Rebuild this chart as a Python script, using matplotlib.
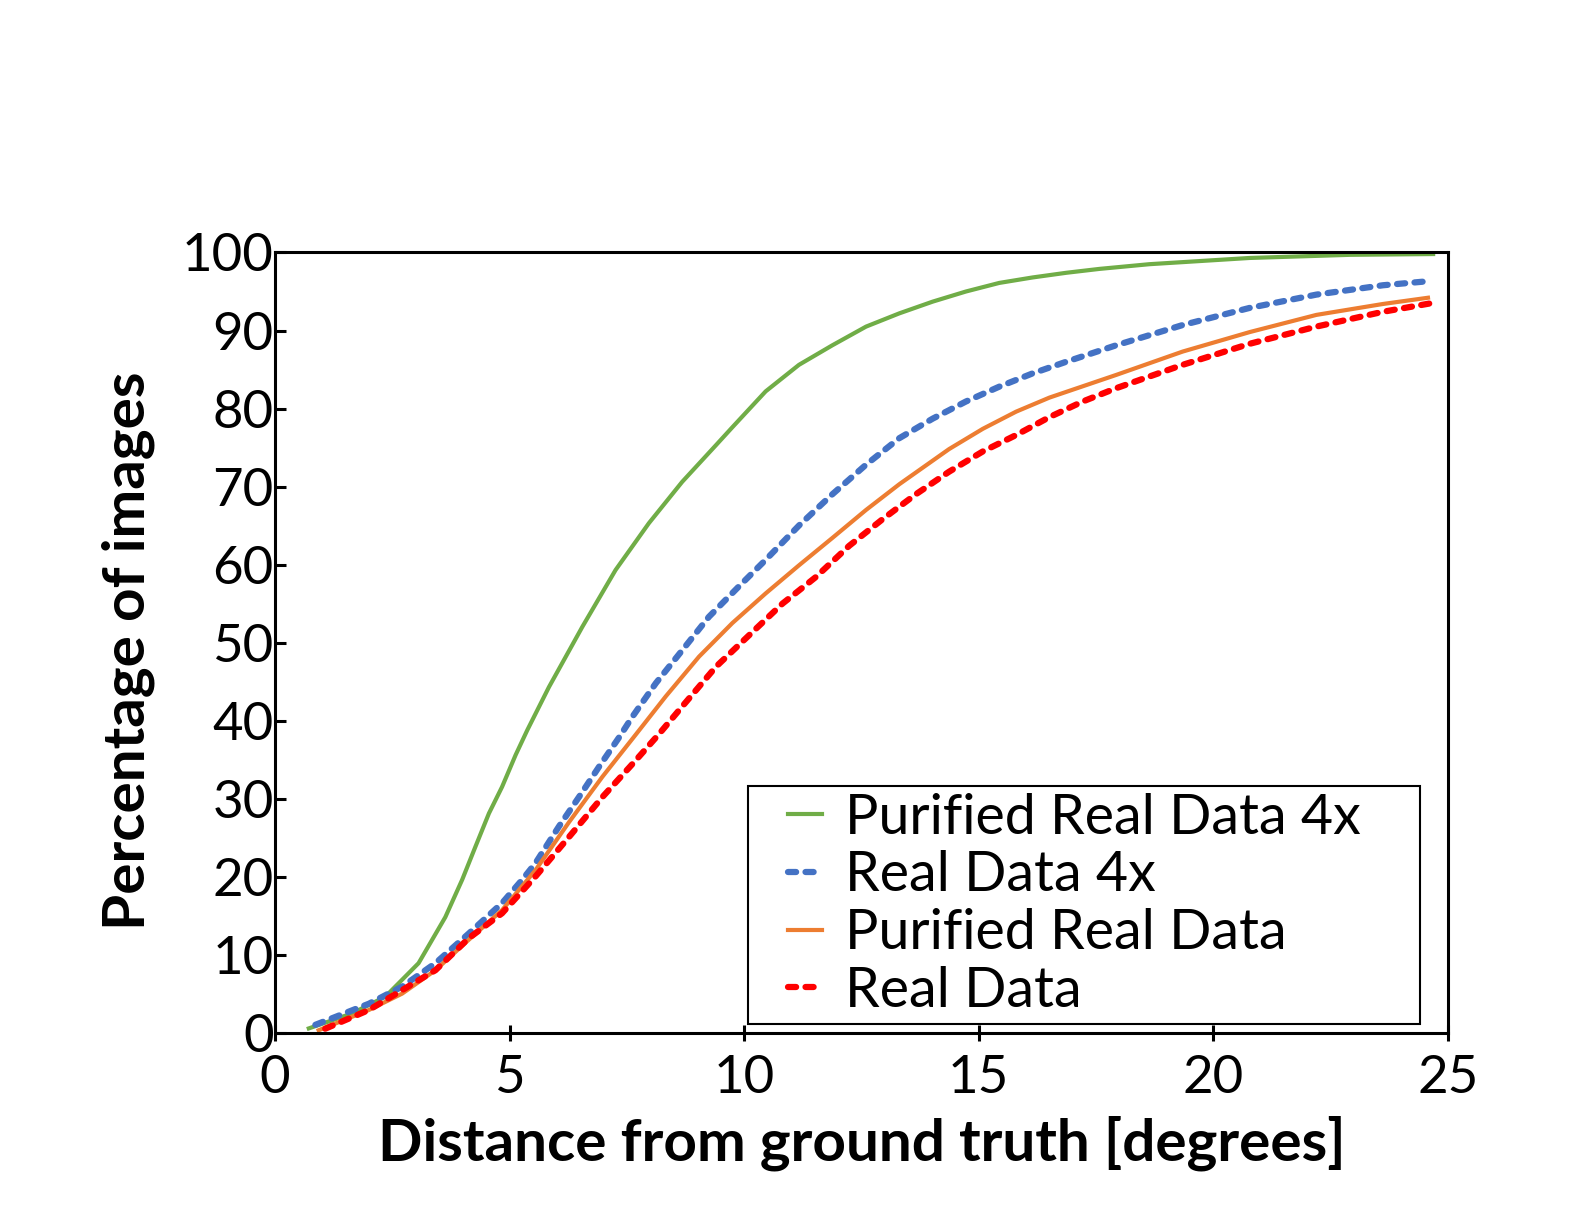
import matplotlib
matplotlib.use("Agg")
import matplotlib.pyplot as plt
from matplotlib.lines import Line2D
from matplotlib.legend_handler import HandlerLine2D

plt.rcParams['font.family'] = ['Lato', 'DejaVu Sans']

# values
x_green = [0.72, 1.64, 2.35, 3.06, 3.63, 3.99, 4.27, 4.56, 4.84, 5.13, 5.38, 5.84, 6.55, 7.26,
           7.97, 8.68, 9.4, 9.75, 10.46, 11.17, 11.88, 12.6, 13.31, 14.02, 14.73, 15.44, 16.15,
           16.87, 17.58, 18.64, 20.78, 22.91, 24.69]
y_green = [0.54, 2.46, 4.6, 8.9, 14.8, 19.6, 23.8, 28.1, 31.5, 35.6, 38.8, 44.3, 52.0, 59.3,
           65.3, 70.6, 75.3, 77.6, 82.2, 85.6, 88.1, 90.5, 92.2, 93.7, 95.0, 96.1, 96.8,
           97.4, 97.9, 98.5, 99.3, 99.7, 99.8]

x_blue = [0.86, 2.0, 2.71, 3.42, 4.13, 4.84, 5.27, 5.55, 6.05, 6.48, 6.91, 7.33, 7.62, 8.12,
          8.68, 9.25, 9.89, 10.46, 11.17, 11.88, 12.6, 13.31, 14.02, 14.73, 15.44, 16.15,
          16.87, 17.93, 19.35, 20.78, 22.2, 23.62, 24.55]
y_blue = [1.0, 3.7, 5.9, 8.9, 12.7, 16.6, 19.6, 21.7, 26.4, 30.2, 34.1, 37.8, 40.5, 44.8,
          49.0, 53.3, 57.2, 60.6, 65.0, 69.0, 72.8, 76.2, 78.7, 80.9, 82.8, 84.5,
          86.0, 88.1, 90.7, 92.9, 94.6, 95.8, 96.3]

x_orange = [0.93, 2.0, 2.71, 3.42, 4.13, 4.84, 5.55, 6.27, 6.98, 7.69, 8.33, 9.04, 9.75,
            10.46, 11.17, 11.88, 12.6, 13.31, 14.37, 15.09, 15.8, 16.51, 17.93, 19.35,
            20.78, 22.2, 23.62, 24.58]
y_orange = [0.3, 2.9, 5.0, 8.0, 11.9, 15.7, 20.8, 27.0, 32.8, 38.2, 43.1, 48.2, 52.5,
            56.3, 59.9, 63.4, 67.0, 70.3, 74.8, 77.4, 79.6, 81.4, 84.3, 87.3,
            89.8, 92.0, 93.4, 94.2]

x_red = [1.07, 2.0, 3.42, 4.13, 4.84, 5.55, 6.27, 6.98, 7.69, 8.19, 8.68, 9.4, 10.1, 10.82,
         11.53, 12.24, 12.95, 13.66, 14.37, 15.09, 15.8, 16.51, 17.22, 17.93, 19.35, 20.78,
         22.2, 23.62, 24.65]
y_red = [0.5, 2.9, 8.0, 12.1, 15.3, 20.0, 25.1, 30.2, 34.9, 38.3, 41.8, 46.9, 50.9, 55.0,
         58.4, 62.4, 65.8, 69.0, 71.9, 74.5, 76.6, 78.9, 80.9, 82.6, 85.6, 88.3,
         90.5, 92.4, 93.5]

fig = plt.figure(figsize=(15.77, 12.11), dpi=100)
ax = fig.add_axes([0.1744, 0.1473, 0.7436, 0.6442])

dots = (0, (1.3, 1.5))
ax.plot(x_green, y_green, color='#70AD47', lw=3, label='Purified Real Data 4x')
ax.plot(x_blue, y_blue, color='#4472C4', lw=4.5, linestyle=dots, dash_capstyle='round', label='Real Data 4x')
ax.plot(x_orange, y_orange, color='#ED7D31', lw=3, label='Purified Real Data')
ax.plot(x_red, y_red, color='#FF0000', lw=4.5, linestyle=dots, dash_capstyle='round', label='Real Data')

ax.set_xlim(0, 25)
ax.set_ylim(0, 100)
ax.set_xticks(range(0, 26, 5))
ax.set_yticks(range(0, 101, 10))
for s in ax.spines.values():
    s.set_linewidth(2.2)
ax.tick_params(axis='x', direction='inout', length=12, width=2.2, labelsize=38, pad=10)
ax.tick_params(axis='y', direction='in', length=8, width=2.2, labelsize=38, pad=1)

ax.set_xlabel('Distance from ground truth [degrees]', fontsize=42, fontweight='bold', labelpad=10)
ax.set_ylabel('Percentage of images', fontsize=42, fontweight='bold', labelpad=19)
ax.yaxis.label.set_y(0.49)

# short handles with extra space on their left, like the reference
leg = ax.legend(loc='lower left', bbox_to_anchor=(0.4032, 0.011, 0.5732, 0.30), mode='expand',
                fontsize=40, fancybox=False, edgecolor='black', handlelength=1.2,
                handletextpad=0.42, labelspacing=0.12, borderpad=0.13, borderaxespad=0,
                framealpha=1, handler_map={Line2D: HandlerLine2D(xpad=0.6)})
leg.get_frame().set_linewidth(1.5)

plt.savefig('out.png', dpi=100)
